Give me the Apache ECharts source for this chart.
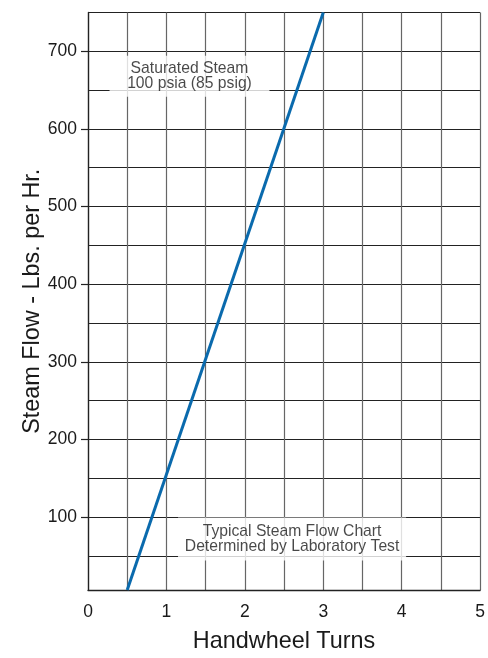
<!DOCTYPE html>
<html><head><meta charset="utf-8">
<script src="https://cdn.jsdelivr.net/npm/echarts@6/dist/echarts.min.js"></script>
<style>html,body{margin:0;padding:0;background:#fff}#c{width:488px;height:658px}</style>
</head><body><div id="c"></div>
<script>
const turns = [0.5, 3];
const flow = [6, 750];
const xTicks = [0, 1, 2, 3, 4, 5];
const yTicks = [100, 200, 300, 400, 500, 600, 700];
const yGrid = [50, 100, 150, 200, 250, 300, 350, 400, 450, 500, 550, 600, 650, 700, 750];
const notes = [
  { x: 1.294, y: 668, text: 'Saturated Steam\n100 psia (85 psig)', pad: [3.4, 17.6, 9.2, 17.6], lh: 14.2 },
  { x: 2.602, y: 71.7, text: 'Typical Steam Flow Chart\nDetermined by Laboratory Test', pad: [3.8, 6.8, 8.2, 6.8], lh: 15.5 }
];
const FONT = '"Liberation Sans", Arial, Helvetica, sans-serif';
const INK = '#1a1a1a';
const chart = echarts.init(document.getElementById('c'), null, { renderer: 'canvas' });
chart.setOption({
  animation: false,
  grid: { left: 88, right: 6, top: 12.5, bottom: 62, containLabel: false },
  xAxis: {
    type: 'value', min: 0, max: 5, interval: 0.5,
    name: 'Handwheel Turns', nameLocation: 'middle', nameGap: 40,
    nameTextStyle: { fontSize: 23.4, color: INK, fontFamily: FONT },
    axisLine: { show: true, lineStyle: { color: '#222', width: 1.3 } },
    axisTick: { show: false },
    axisLabel: { fontSize: 17.5, color: INK, fontFamily: FONT, margin: 13,
      formatter: v => xTicks.includes(v) ? String(v) : '' },
    splitLine: { show: true, lineStyle: { color: '#666', width: 1.2 } }
  },
  yAxis: [{
    type: 'value', min: 6, max: 750,
    name: 'Steam Flow - Lbs. per Hr.', nameLocation: 'middle', nameGap: 44,
    nameTextStyle: { fontSize: 23.4, color: INK, fontFamily: FONT },
    axisLine: { show: true, lineStyle: { color: '#222', width: 1.3 } },
    axisTick: { show: true, length: 0, lineStyle: { color: 'rgba(0,0,0,0)' }, customValues: yGrid },
    axisLabel: { show: false },
    splitLine: { show: true, lineStyle: { color: '#222', width: 1.2 } }
  }, {
    type: 'value', min: 6, max: 750, position: 'left', offset: 0,
    axisLine: { show: false },
    axisTick: { show: true, length: 7, lineStyle: { color: '#222', width: 1.2 }, customValues: yTicks },
    axisLabel: { fontSize: 17.5, color: INK, fontFamily: FONT, margin: 11, customValues: yTicks },
    splitLine: { show: false }
  }],
  series: [{
    type: 'line', data: turns.map((t, i) => [t, flow[i]]),
    symbol: 'none', lineStyle: { color: '#0a6aad', width: 3 }, z: 3
  }, {
    type: 'scatter', symbolSize: 0, z: 5,
    data: notes.map((n, i) => ({
      value: [n.x, n.y],
      label: { padding: n.pad, lineHeight: n.lh }
    })),
    label: {
      show: true, position: 'inside', fontSize: 15.7, color: INK,
      fontFamily: FONT, backgroundColor: '#fff', align: 'center', verticalAlign: 'middle',
      formatter: p => notes[p.dataIndex].text
    }
  }]
});
</script></body></html>
